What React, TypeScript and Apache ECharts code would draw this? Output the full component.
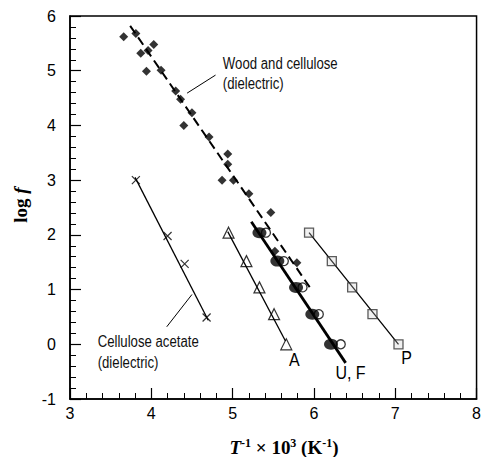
import React, { useEffect, useRef } from "react";
import * as echarts from "echarts";

// Wood and cellulose (dielectric) – filled diamonds
const woodPoints: number[][] = [
  [3.66, 5.62], [3.81, 5.68], [3.87, 5.32], [3.96, 5.37], [4.03, 5.48],
  [3.94, 4.99], [4.12, 5.01], [4.30, 4.63], [4.36, 4.48], [4.50, 4.23],
  [4.40, 4.00], [4.71, 3.79], [4.94, 3.48], [4.94, 3.29], [4.87, 3.00],
  [5.01, 3.00], [5.20, 2.75], [5.47, 2.41], [5.52, 1.70], [5.79, 1.49],
];
const woodFit: number[][] = [[3.74, 5.82], [5.95, 1.04]];

// Cellulose acetate (dielectric) – crosses
const acetatePoints: number[][] = [[3.81, 3.0], [4.2, 1.98], [4.41, 1.47], [4.68, 0.49]];
const acetateFit: number[][] = [[3.8, 3.05], [4.7, 0.44]];

// A – open triangles
const aPoints: number[][] = [[4.95, 2.04], [5.17, 1.52], [5.33, 1.04], [5.51, 0.55], [5.66, 0.0]];
const aFit: number[][] = [[4.94, 2.06], [5.65, 0.06]];

// U – open circles, F – filled circles
const uPoints: number[][] = [[5.41, 2.04], [5.63, 1.52], [5.86, 1.04], [6.06, 0.55], [6.33, 0.0]];
const fPoints: number[][] = [[5.33, 2.04], [5.55, 1.52], [5.78, 1.04], [5.98, 0.55], [6.21, 0.0]];
const ufFit: number[][] = [[5.23, 2.24], [6.39, -0.34]];

// P – open squares
const pPoints: number[][] = [[5.94, 2.04], [6.22, 1.52], [6.47, 1.04], [6.72, 0.55], [7.04, 0.0]];
const pFit: number[][] = [[5.94, 2.04], [7.04, 0.0]];

const xTicks = { min: 3, max: 8, interval: 1 };
const yTicks = { min: -1, max: 6, interval: 1 };

// annotations (data coordinates of left edge / vertical centre)
const annotations = [
  { text: "Wood and cellulose\n(dielectric)", at: [4.88, 4.95] },
  { text: "Cellulose acetate\n(dielectric)", at: [3.34, -0.14] },
];
const leaders: number[][][] = [
  [[4.79, 4.92], [4.44, 4.59]],
  [[4.5, 0.91], [4.19, 0.32]],
];
const seriesLabels = [
  { text: "A", at: [5.76, -0.29] },
  { text: "U, F", at: [6.45, -0.53] },
  { text: "P", at: [7.14, -0.26] },
];

const SANS = "'Liberation Sans', Arial, sans-serif";
const SERIF = "'Liberation Serif', 'Times New Roman', serif";

export default function App() {
  const ref = useRef<HTMLDivElement>(null);
  useEffect(() => {
    if (!ref.current) return;
    const chart = echarts.init(ref.current, undefined, { renderer: "svg" });
    const axisCommon = {
      axisLine: { show: true, onZero: false, lineStyle: { color: "#000", width: 1.5 } },
      axisTick: { show: true, inside: true, length: 11, lineStyle: { color: "#000", width: 1.2 } },
      minorTick: { show: true, splitNumber: 5, length: 6, lineStyle: { color: "#000", width: 1 } },
      splitLine: { show: false },
      axisLabel: { color: "#000", fontFamily: SANS, fontSize: 16 },
    };
    const fitLine = (data: number[][], width: number, type: any = "solid") => ({
      type: "line",
      data,
      symbol: "none",
      silent: true,
      lineStyle: { color: "#000", width, type },
      z: 1,
    });
    chart.setOption({
      animation: false,
      backgroundColor: "#fff",
      grid: {
        left: 70, right: 6, top: 16, bottom: 58,
        show: true, borderColor: "#000", borderWidth: 1.5, backgroundColor: "transparent",
      },
      xAxis: {
        type: "value", ...xTicks, ...axisCommon,
        axisLabel: { ...axisCommon.axisLabel, margin: 6 },
      },
      yAxis: {
        type: "value", ...yTicks, ...axisCommon,
        axisLabel: { ...axisCommon.axisLabel, margin: 14 },
      },
      series: [
        fitLine(woodFit, 2, [9, 5]),
        fitLine(acetateFit, 1.3),
        fitLine(aFit, 1.3),
        fitLine(ufFit, 2.8),
        fitLine(pFit, 1.3),
        {
          type: "scatter", data: woodPoints, symbol: "diamond", symbolSize: 9,
          itemStyle: { color: "#000" }, z: 3,
        },
        {
          type: "scatter", data: acetatePoints, symbol: "path://M0,0L10,10M10,0L0,10",
          symbolSize: 8, itemStyle: { color: "none", borderColor: "#000", borderWidth: 1.2 }, z: 3,
        },
        {
          type: "scatter", data: aPoints, symbol: "triangle", symbolSize: 11,
          itemStyle: { color: "rgba(255,255,255,0)", borderColor: "#000", borderWidth: 1.2 }, z: 3,
        },
        {
          type: "scatter", data: uPoints, symbol: "circle", symbolSize: 9,
          itemStyle: { color: "#fff", borderColor: "#000", borderWidth: 1.3 }, z: 3,
        },
        {
          type: "scatter", data: fPoints, symbol: "circle", symbolSize: [14, 11],
          itemStyle: { color: "#000" }, z: 4,
        },
        {
          type: "scatter", data: pPoints, symbol: "rect", symbolSize: 9,
          itemStyle: { color: "rgba(200,200,200,0.35)", borderColor: "#333", borderWidth: 1.3 }, z: 3,
        },
      ],
    });

    const px = (p: number[]) => chart.convertToPixel({ gridIndex: 0 }, p) as number[];
    const graphics: any[] = [];
    annotations.forEach((a) => {
      const [x, y] = px(a.at);
      graphics.push({
        type: "text", x, y, scaleY: 1.2, silent: true,
        style: {
          text: a.text, fill: "#111", font: `13.2px ${SANS}`,
          align: "left", verticalAlign: "middle", lineHeight: 17,
        },
      });
    });
    leaders.forEach((l) => {
      const [x1, y1] = px(l[0]);
      const [x2, y2] = px(l[1]);
      graphics.push({
        type: "line", silent: true,
        shape: { x1, y1, x2, y2 },
        style: { stroke: "#000", lineWidth: 1 },
      });
    });
    seriesLabels.forEach((s) => {
      const [x, y] = px(s.at);
      graphics.push({
        type: "text", x, y, scaleY: 1.1, silent: true,
        style: {
          text: s.text, fill: "#000", font: `16px ${SANS}`,
          align: "center", verticalAlign: "middle",
        },
      });
    });
    // axis titles
    graphics.push({
      type: "text", x: 284, y: 447, silent: true,
      style: {
        text: "{t|T}{s|-1}{n| × 10}{s|3}{n| (K}{s|-1}{n|)}",
        align: "center", verticalAlign: "middle",
        rich: {
          t: { fontFamily: SERIF, fontSize: 19, fontWeight: "bold", fontStyle: "italic", fill: "#000", lineHeight: 20, verticalAlign: "bottom" },
          n: { fontFamily: SERIF, fontSize: 19, fontWeight: "bold", fill: "#000", lineHeight: 20, verticalAlign: "bottom" },
          s: { fontFamily: SERIF, fontSize: 12, fontWeight: "bold", fill: "#000", lineHeight: 20, verticalAlign: "top" },
        },
      },
    });
    graphics.push({
      type: "text", x: 20, y: 205, rotation: Math.PI / 2, silent: true,
      style: {
        text: "{n|log }{i|f}",
        align: "center", verticalAlign: "middle",
        rich: {
          n: { fontFamily: SERIF, fontSize: 19, fontWeight: "bold", fill: "#000" },
          i: { fontFamily: SERIF, fontSize: 19, fontWeight: "bold", fontStyle: "italic", fill: "#000" },
        },
      },
    });
    chart.setOption({ graphic: graphics });
    return () => chart.dispose();
  }, []);
  return (
    <div
      ref={ref}
      style={{ position: "fixed", left: 0, top: 0, width: 484, height: 457, background: "#fff" }}
    />
  );
}
